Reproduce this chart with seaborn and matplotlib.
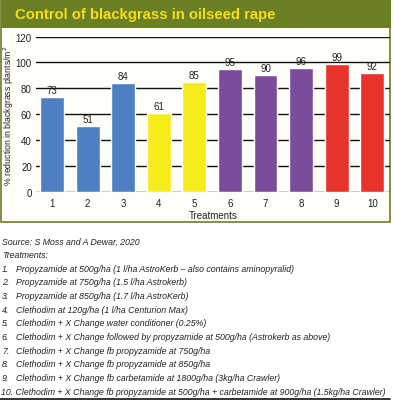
import pandas as pd
import matplotlib
matplotlib.use("Agg")
import matplotlib.pyplot as plt
import seaborn as sns
from matplotlib.patches import Rectangle

treatments = ["1", "2", "3", "4", "5", "6", "7", "8", "9", "10"]
reduction = [73, 51, 84, 61, 85, 95, 90, 96, 99, 92]
groups = ["A", "A", "A", "B", "B", "C", "C", "C", "D", "D"]
group_colors = {"A": "#4f7fc3", "B": "#f6ec1c", "C": "#7c4b9b", "D": "#e8332a"}

title = "Control of blackgrass in oilseed rape"
source = "Source: S Moss and A Dewar, 2020"
notes = [
    "Propyzamide at 500g/ha (1 l/ha AstroKerb \u2013 also contains aminopyralid)",
    "Propyzamide at 750g/ha (1.5 l/ha Astrokerb)",
    "Propyzamide at 850g/ha (1.7 l/ha AstroKerb)",
    "Clethodim at 120g/ha (1 l/ha Centurion Max)",
    "Clethodim + X Change water conditioner (0.25%)",
    "Clethodim + X Change followed by propyzamide at 500g/ha (Astrokerb as above)",
    "Clethodim + X Change fb propyzamide at 750g/ha",
    "Clethodim + X Change fb propyzamide at 850g/ha",
    "Clethodim + X Change fb carbetamide at 1800g/ha (3kg/ha Crawler)",
    "Clethodim + X Change fb propyzamide at 500g/ha + carbetamide at 900g/ha (1.5kg/ha Crawler)",
]

sns.set_style("white")
plt.rcParams["font.family"] = ["Liberation Sans", "DejaVu Sans"]

W, H = 394, 402
fig = plt.figure(figsize=(W / 100, H / 100), dpi=100)

def fx(px):
    return px / W

def fy(py):
    return 1 - py / H

olive = "#6b7f24"
# chart box and header band
fig.patches.append(Rectangle((fx(1), fy(223)), fx(389), (223 - 1) / H,
                             transform=fig.transFigure, facecolor="#fefef8",
                             edgecolor=olive, linewidth=1.2, zorder=0))
fig.patches.append(Rectangle((fx(0.5), fy(29)), fx(390), 29 / H,
                             transform=fig.transFigure, facecolor=olive,
                             edgecolor="none", zorder=1))
fig.text(fx(15), fy(15), title, color="#f4dd1c", fontsize=10.7,
         fontweight="bold", va="center", ha="left")

ax = fig.add_axes([fx(36), fy(193), fx(390 - 36), (193 - 37.5) / H])
ax.set_zorder(5)
ax.set_facecolor("none")

df = pd.DataFrame({"treatment": treatments, "reduction": reduction, "group": groups})
sns.barplot(data=df, x="treatment", y="reduction", hue="group",
            palette=group_colors, dodge=False, width=0.67, legend=False,
            saturation=1, ax=ax, zorder=3)

for c in ax.containers:
    ax.bar_label(c, fontsize=7, padding=1.5, color="#222222")

ax.set_ylim(0, 120)
ax.set_xlim(-0.45, 9.5)
ax.set_yticks(range(0, 121, 20))
ax.yaxis.grid(True, color="#111111", linewidth=1.0)
ax.set_axisbelow(True)
for s in ax.spines.values():
    s.set_visible(False)
ax.tick_params(axis="both", length=0, labelsize=7, colors="#222222")
ax.tick_params(axis="y", pad=3)
ax.tick_params(axis="x", pad=4)
ax.set_xlabel("Treatments", fontsize=7, color="#222222", labelpad=2)
ax.set_ylabel("")
fig.text(fx(8.5), fy(116), "% reduction in blackgrass plants/m$^2$", rotation=90,
         fontsize=6.3, color="#222222", ha="center", va="center")

# notes below the chart
fs = 6.35
fig.text(fx(2), fy(242), source, fontsize=fs, style="italic",
         color="#222222", va="center")
fig.text(fx(2), fy(255.5), "Treatments:", fontsize=fs, style="italic",
         color="#222222", va="center")
for i, note in enumerate(notes):
    y = fy(269 + i * 13.7)
    if i < 9:
        fig.text(fx(2), y, f"{i + 1}.", fontsize=fs, style="italic",
                 color="#222222", va="center")
        fig.text(fx(16), y, note, fontsize=fs, style="italic",
                 color="#222222", va="center")
    else:
        fig.text(fx(1), y, f"{i + 1}. {note}", fontsize=fs, style="italic",
                 color="#222222", va="center")

fig.add_artist(plt.Line2D([0, fx(390)], [fy(400), fy(400)],
                          transform=fig.transFigure, color="#111111", linewidth=1.2))

fig.savefig("out.png", dpi=100)
